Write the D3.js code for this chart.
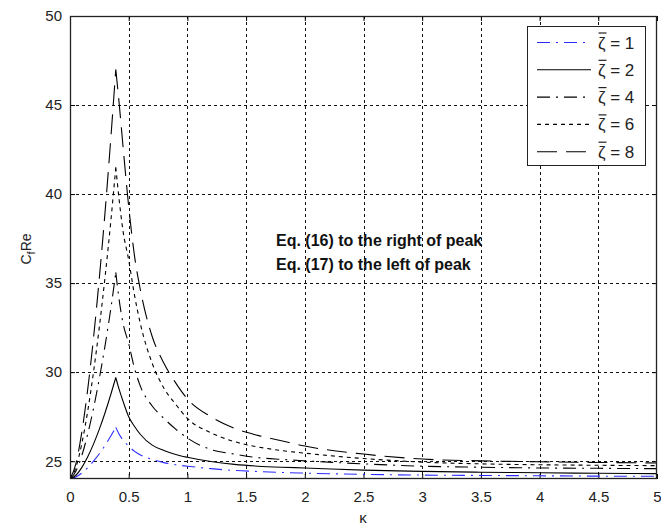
<!DOCTYPE html>
<html><head><meta charset="utf-8">
<script src="https://cdn.jsdelivr.net/npm/d3@7"></script>
<style>body{margin:0;background:#fff}svg{display:block}</style>
</head><body>
<svg id="c" width="661" height="528"></svg>
<script>
// ---- data ----
const kappa = [0, 0.05, 0.1, 0.15, 0.2, 0.25, 0.3, 0.35, 0.39, 0.42, 0.45, 0.5, 0.55, 0.6, 0.7, 0.8, 0.9, 1.0, 1.2, 1.4, 1.6, 1.8, 2.0, 2.5, 3.0, 3.5, 4.0, 4.5, 5.0];
const peakIndex = 8;
const zeta1 = [24, 24.11, 24.33, 24.63, 25.0, 25.42, 25.9, 26.44, 26.9, 26.5, 26.2, 25.85, 25.55, 25.35, 25.1, 24.92, 24.8, 24.72, 24.58, 24.48, 24.42, 24.37, 24.33, 24.26, 24.22, 24.2, 24.18, 24.16, 24.15];
const zeta2 = [24, 24.21, 24.64, 25.24, 25.96, 26.8, 27.75, 28.8, 29.7, 29.0, 28.4, 27.5, 26.95, 26.5, 25.9, 25.6, 25.38, 25.22, 24.98, 24.82, 24.72, 24.66, 24.62, 24.5, 24.43, 24.38, 24.35, 24.32, 24.3];
const zeta4 = [24, 24.43, 25.3, 26.5, 27.96, 29.65, 31.55, 33.67, 35.6, 34.0, 32.8, 31.6, 30.2, 29.2, 28.1, 27.4, 26.8, 26.3, 25.65, 25.4, 25.2, 25.1, 25.02, 24.85, 24.72, 24.66, 24.62, 24.6, 24.58];
const zeta6 = [24, 24.64, 25.97, 27.78, 29.99, 32.54, 35.43, 38.63, 41.5, 39.6, 38.0, 36.3, 34.3, 32.7, 30.5, 29.1, 28.2, 27.4, 26.6, 26.1, 25.8, 25.6, 25.45, 25.15, 24.95, 24.85, 24.8, 24.77, 24.75];
const zeta8 = [24, 24.85, 26.6, 28.99, 31.9, 35.3, 39.1, 43.34, 47.0, 45.0, 42.8, 39.3, 36.5, 34.6, 32.0, 30.5, 29.4, 28.5, 27.5, 26.85, 26.45, 26.15, 25.85, 25.4, 25.12, 25.02, 24.97, 24.93, 24.9];
const seriesNames = ["1", "2", "4", "6", "8"];
const xTicks = [0, 0.5, 1, 1.5, 2, 2.5, 3, 3.5, 4, 4.5, 5];
const xTickLabels = ["0", "0.5", "1", "1.5", "2", "2.5", "3", "3.5", "4", "4.5", "5"];
const yTicks = [25, 30, 35, 40, 45, 50];
const yTickLabels = ["25", "30", "35", "40", "45", "50"];
const annotation = ["Eq. (16) to the right of peak", "Eq. (17) to the left of peak"];

const series = [
  {name: seriesNames[0], values: zeta1, color: "#2b2bff", dash: "13,6,2,6"},
  {name: seriesNames[1], values: zeta2, color: "#000", dash: null},
  {name: seriesNames[2], values: zeta4, color: "#000", dash: "13,6,2,6"},
  {name: seriesNames[3], values: zeta6, color: "#000", dash: "4,4"},
  {name: seriesNames[4], values: zeta8, color: "#000", dash: "20,9"}
];

// ---- layout ----
const M = {l: 70, r: 657, t: 16, b: 479};
const svg = d3.select("#c");
const x = d3.scaleLinear().domain([0, 5]).range([M.l, M.r]);
const y = d3.scaleLinear().domain([24, 50]).range([M.b, M.t]);
const font = "'Liberation Sans', Arial, Helvetica, sans-serif";

svg.append("defs").append("clipPath").attr("id", "clip")
  .append("rect").attr("x", M.l).attr("y", M.t).attr("width", M.r - M.l).attr("height", M.b - M.t);

// grid
const grid = svg.append("g").attr("stroke", "#111").attr("stroke-width", 1).attr("stroke-dasharray", "3,3").attr("shape-rendering", "crispEdges");
xTicks.filter(t => t > 0 && t < 5).forEach(t => grid.append("line").attr("x1", Math.round(x(t)) + 0.5).attr("x2", Math.round(x(t)) + 0.5).attr("y1", M.t).attr("y2", M.b));
yTicks.filter(t => t < 50).forEach(t => grid.append("line").attr("y1", Math.round(y(t)) + 0.5).attr("y2", Math.round(y(t)) + 0.5).attr("x1", M.l).attr("x2", M.r));

// axes via d3 axis (ticks inward)
const axB = svg.append("g").attr("transform", `translate(0,${M.b})`)
  .call(d3.axisBottom(x).tickValues(xTicks).tickFormat((d, i) => xTickLabels[i]).tickSizeInner(-5).tickSizeOuter(0).tickPadding(12));
const axT = svg.append("g").attr("transform", `translate(0,${M.t})`)
  .call(d3.axisTop(x).tickValues(xTicks).tickFormat("").tickSizeInner(-5).tickSizeOuter(0));
const axL = svg.append("g").attr("transform", `translate(${M.l},0)`)
  .call(d3.axisLeft(y).tickValues(yTicks).tickFormat((d, i) => yTickLabels[i]).tickSizeInner(-5).tickSizeOuter(0).tickPadding(8));
const axR = svg.append("g").attr("transform", `translate(${M.r},0)`)
  .call(d3.axisRight(y).tickValues(yTicks).tickFormat("").tickSizeInner(-5).tickSizeOuter(0));
[axB, axT, axL, axR].forEach(a => {
  a.select(".domain").remove();
  a.selectAll("line").attr("stroke", "#000");
  a.selectAll("text").attr("font-family", font).attr("font-size", 15).attr("fill", "#222");
});
axB.selectAll("text").attr("dy", "0.71em");

// curves
const clip = svg.append("g").attr("clip-path", "url(#clip)");
const lineGen = d3.line().x(d => x(d[0])).y(d => y(d[1])).curve(d3.curveMonotoneX);
series.forEach(s => {
  const pts = kappa.map((k, i) => [k, s.values[i]]);
  const d = lineGen(pts.slice(0, peakIndex + 1)) + lineGen(pts.slice(peakIndex));
  clip.append("path").attr("d", d).attr("fill", "none").attr("stroke", s.color)
    .attr("stroke-width", 1.1).attr("stroke-dasharray", s.dash);
});

// frame
svg.append("rect").attr("x", M.l + 0.5).attr("y", M.t + 0.5).attr("width", M.r - M.l - 1).attr("height", M.b - M.t - 1)
  .attr("fill", "none").attr("stroke", "#222").attr("stroke-width", 1.3);

// axis labels
const yl = svg.append("text").attr("transform", "translate(31,249) rotate(-90)").attr("text-anchor", "middle")
  .attr("font-family", font).attr("font-size", 14).attr("fill", "#222");
yl.append("tspan").text("C");
yl.append("tspan").attr("font-size", 11).attr("dy", 4).text("f");
yl.append("tspan").attr("dy", -4).text("Re");
svg.append("text").attr("x", 363).attr("y", 523).attr("text-anchor", "middle")
  .attr("font-family", font).attr("font-size", 15).attr("fill", "#222").text("κ");

// annotation
annotation.forEach((t, i) => svg.append("text").attr("x", 276).attr("y", 246 + i * 24)
  .attr("font-family", font).attr("font-size", 16).attr("font-weight", "bold").attr("fill", "#111").text(t));

// legend
const lg = svg.append("g");
lg.append("rect").attr("x", 527.5).attr("y", 26.5).attr("width", 118).attr("height", 139)
  .attr("fill", "#fff").attr("stroke", "#222").attr("stroke-width", 1);
series.forEach((s, i) => {
  const yy = 42.5 + i * 27.3;
  lg.append("line").attr("x1", 537).attr("x2", 591).attr("y1", yy).attr("y2", yy)
    .attr("stroke", s.color).attr("stroke-width", 1.1).attr("stroke-dasharray", s.dash);
  const t = lg.append("text").attr("x", 598).attr("y", yy + 6).attr("font-family", font)
    .attr("font-size", 17).attr("fill", "#222");
  t.append("tspan").text("ζ");
  t.append("tspan").text(" = " + s.name);
  lg.append("line").attr("x1", 598.5).attr("x2", 606.5).attr("y1", yy - 9.5).attr("y2", yy - 9.5)
    .attr("stroke", "#222").attr("stroke-width", 1.2);
});
</script>
</body></html>
